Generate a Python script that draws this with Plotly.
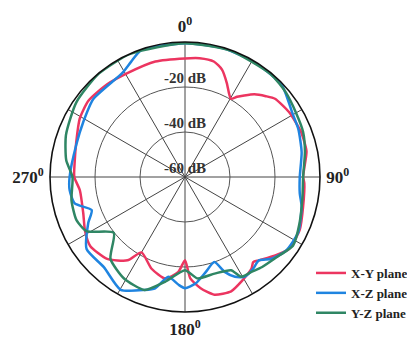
import plotly.graph_objects as go

# ---- data (angle in degrees, clockwise from top; gain in dB) ----
xy_theta = [0, 7, 14, 19, 24, 28, 30.5, 33, 36, 40, 45, 49, 58, 68.6, 78, 85.5, 90, 93, 104, 114.6,
            124.7, 131, 138.5, 141.3, 144, 151.7, 158, 166, 172, 177, 180, 184, 191, 200, 210,
            214.6, 223.6, 234, 241.6, 250.4, 262.8, 270, 278, 288, 299, 308.3, 320, 331, 345.6, 360]
xy_db = [-7.3, -6.8, -7.1, -9.5, -14.3, -18.2, -19.7, -17.5, -15.2, -12.0, -9.2, -7.0, -5.5, -4.7, -4.8,
         -6.8, -7.5, -6.9, -5.9, -3.9, -3.8, -6.8, -10.5, -11.5, -9.7, -7.2, -5.2, -6.1, -10.1, -14.9,
         -23.0, -17.7, -14.0, -16.6, -21.3, -15.0, -9.8, -7.9, -9.5, -12.0, -12.9, -10.8, -10.5, -9.2,
         -6.5, -5.3, -6.2, -7.2, -7.0, -7.3]

xz_theta = [0, 17, 30, 40, 47, 54, 60, 67, 78, 90, 98, 104, 116, 126, 133.3, 138.5, 143.4, 149, 153.4,
            157.3, 161, 167.6, 174.2, 180, 183.4, 189.5, 195, 199.7, 209.7, 222, 233.8, 244.6, 250.5,
            256.5, 263.4, 270, 286.5, 298.4, 310.4, 329, 335, 341, 360]
xz_db = [-0.5, -0.3, -0.4, -0.5, -0.8, -3.1, -4.6, -5.3, -7.0, -9.0, -8.5, -6.6, -4.0, -4.4, -7.0, -10.5,
         -9.2, -8.3, -10.4, -14.3, -20.0, -16.8, -12.5, -10.6, -12.0, -15.0, -8.8, -6.7, -2.3, -6.1,
         -5.8, -12.4, -16.0, -9.6, -8.4, -8.7, -9.6, -8.6, -6.5, -6.0, -3.4, -0.4, -0.5]

yz_theta = [0, 20, 40, 50, 60, 69, 78, 90, 100, 112, 122.5, 129.8, 139.4, 145, 150.6, 153.7, 163, 173,
            180, 190.8, 199.7, 211, 222.3, 232, 241.2, 248.5, 258.4, 270, 278, 289.4, 304.5, 320, 336, 360]
yz_db = [-0.5, -0.3, -0.5, -1.5, -3.0, -3.8, -5.5, -7.5, -7.0, -5.1, -3.1, -5.5, -7.3, -8.5, -9.1, -13.8,
         -15.1, -14.6, -18.6, -12.6, -6.7, -7.4, -10.8, -19.8, -10.0, -8.1, -8.5, -10.0, -6.7, -3.9,
         -1.4, -0.2, -0.1, -0.5]

series_names = ["X-Y plane", "X-Z plane", "Y-Z plane"]
series_colors = ["#ec3560", "#1f84e0", "#2f8664"]

ring_values = [-20, -40, -60]
ring_labels = ["-20 dB", "-40 dB", "-60 dB"]

spoke_angles = list(range(0, 360, 30))
angle_labels = {0: "0<sup>0</sup>", 90: "90<sup>0</sup>", 180: "180<sup>0</sup>", 270: "270<sup>0</sup>"}

SERIF = "Liberation Serif"
W, H = 407, 332  # page body has an 8px default margin

fig = go.Figure()
for th, db, name, col in zip([xy_theta, xz_theta, yz_theta], [xy_db, xz_db, yz_db],
                             series_names, series_colors):
    fig.add_trace(go.Scatterpolar(theta=th, r=db, mode="lines", name=name,
                                  line=dict(color=col, width=2.5, shape="spline", smoothing=0.6)))

fig.add_trace(go.Scatterpolar(theta=[0] * len(ring_values), r=ring_values, mode="text",
                              text=ring_labels, textposition="top center", showlegend=False,
                              textfont=dict(family=SERIF, size=15, color="#333333", weight="bold"),
                              hoverinfo="skip"))

fig.update_layout(
    width=W, height=H,
    margin=dict(l=0, r=0, t=0, b=0, autoexpand=False),
    paper_bgcolor="white",
    font=dict(family=SERIF, color="#222222"),
    polar=dict(
        domain=dict(x=[42 / W, 312 / W], y=[1 - 304 / H, 1 - 34 / H]),
        bgcolor="white",
        radialaxis=dict(range=[-60, 0], tickvals=[-40, -20], showticklabels=False,
                        showline=False, ticks="", gridcolor="#555555", gridwidth=1),
        angularaxis=dict(rotation=90, direction="clockwise",
                         tickvals=spoke_angles,
                         ticktext=[angle_labels.get(a, "") for a in spoke_angles],
                         tickfont=dict(family=SERIF, size=17, color="#222222", weight="bold"),
                         ticks="outside", ticklen=2, tickcolor="rgba(0,0,0,0)",
                         showline=True, linecolor="#111111", linewidth=1.6,
                         gridcolor="#444444", gridwidth=1),
    ),
    legend=dict(x=303 / W, y=1 - 250 / H, xanchor="left", yanchor="top",
                font=dict(family=SERIF, size=13, color="#222222", weight="bold"),
                bgcolor="rgba(0,0,0,0)", itemwidth=30, tracegroupgap=0),
)

fig.write_html("out.html")
